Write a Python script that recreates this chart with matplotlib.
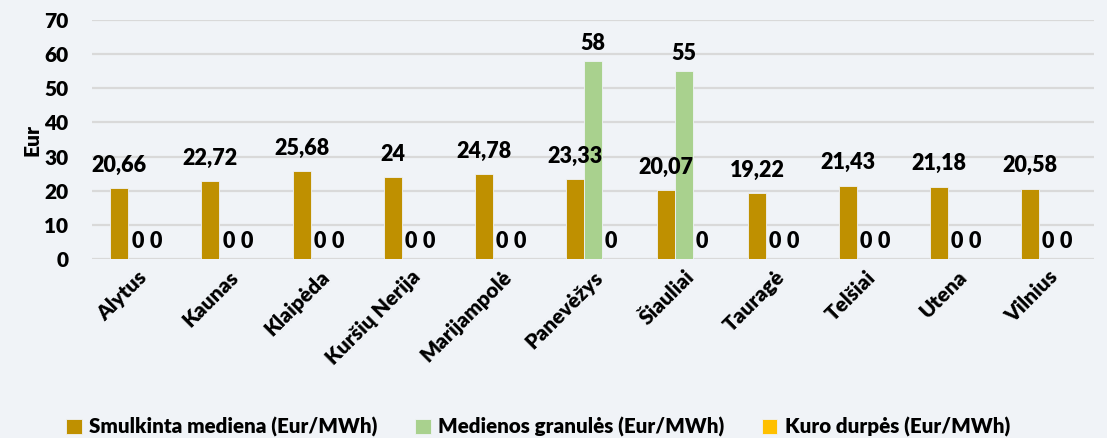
import numpy as np
import matplotlib
matplotlib.use("Agg")
import matplotlib.pyplot as plt

plt.rcParams["font.family"] = ["Lato", "DejaVu Sans"]
plt.rcParams["font.weight"] = "heavy"

# data
cities = ["Alytus", "Kaunas", "Klaipėda", "Kuršių Nerija", "Marijampolė",
          "Panevėžys", "Šiauliai", "Tauragė", "Telšiai", "Utena", "Vilnius"]
smulkinta = [20.66, 22.72, 25.68, 24, 24.78, 23.33, 20.07, 19.22, 21.43, 21.18, 20.58]
granules = [0, 0, 0, 0, 0, 58, 55, 0, 0, 0, 0]
durpes = [0, 0, 0, 0, 0, 0, 0, 0, 0, 0, 0]
series_names = ["Smulkinta mediena (Eur/MWh)", "Medienos granulės (Eur/MWh)",
                "Kuro durpės (Eur/MWh)"]
colors = ["#BF9000", "#A9D18E", "#FFC000"]
bg = "#F0F3F7"
wt = "heavy"


def fmt(v):
    if float(v).is_integer():
        return str(int(v))
    return f"{v:.2f}".replace(".", ",")


fig = plt.figure(figsize=(11.07, 4.38), dpi=100, facecolor=bg)
ax = fig.add_axes([0.083, 0.409, 0.905, 0.545], facecolor=bg)

x = np.arange(len(cities))
w = 0.198
for i, (vals, name, col) in enumerate(zip([smulkinta, granules, durpes], series_names, colors)):
    bars = ax.bar(x + (i - 1) * w, vals, width=w, color=col, label=name,
                  edgecolor=bg, linewidth=0.6, zorder=3)
    txts = ax.bar_label(bars, labels=[fmt(v) for v in vals], padding=9 if i == 0 else 5,
                        fontsize=15.5, fontweight=wt, color="black")
    for t in txts:
        t.set_zorder(10)

ax.set_ylim(0, 70)
ax.set_yticks(range(0, 71, 10))
ax.set_xlim(-0.5, len(cities) - 0.5)
ax.set_xticks(x)
ax.set_xticklabels(cities, rotation=45, ha="right", rotation_mode="anchor",
                   fontsize=15, fontweight=wt)
ax.tick_params(axis="y", length=0, pad=17, labelsize=15)
ax.tick_params(axis="x", length=0, pad=6)
ax.grid(axis="y", color="#D9D9D9", linewidth=1.6, zorder=0)
for s in ax.spines.values():
    s.set_visible(False)
ax.set_ylabel("Eur", fontsize=15, fontweight=wt, labelpad=2)

leg = fig.legend(loc="lower center", bbox_to_anchor=(0.486, -0.04), ncol=3,
                 frameon=False, fontsize=14.8, handlelength=0.75, handleheight=0.75,
                 handletextpad=0.35, columnspacing=1.85)
for t in leg.get_texts():
    t.set_fontweight(wt)

fig.savefig("out.png", dpi=100, facecolor=bg)
